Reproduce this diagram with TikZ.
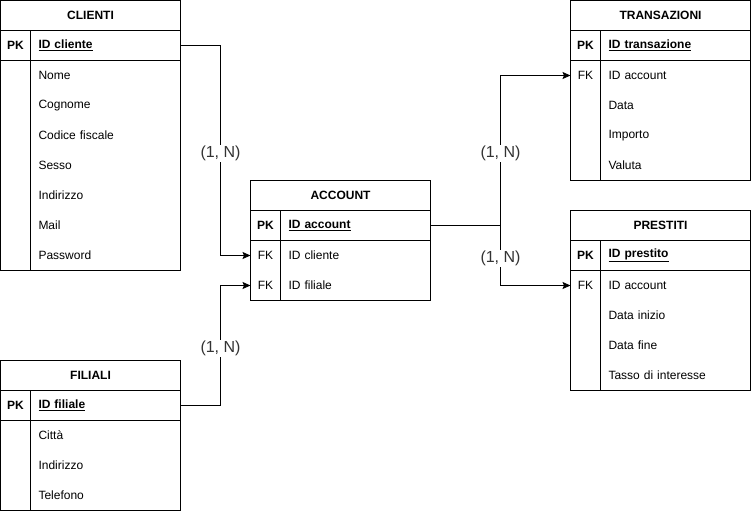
\documentclass[tikz,border=0pt]{standalone}
\usepackage{fontspec}
\setmainfont{Liberation Sans}
\usetikzlibrary {positioning}
\usetikzlibrary {math}
\usetikzlibrary {arrows.meta}
\tikzset{
headbox/.style={rectangle,minimum height=30pt,minimum width=180pt,outer sep=0pt,draw=black,font=\fontsize{12}{14}\selectfont\bfseries}
}
\tikzset{
keybox/.style={rectangle,minimum height=30pt,minimum width=30pt,inner sep=0pt,outer sep=0pt,font=\fontsize{12}{14}\selectfont}
}
\tikzset{
fieldbox/.style={rectangle,minimum height=30pt,text width=134pt,inner xsep=8pt,inner ysep=0pt,outer sep=0pt,align=left,font=\fontsize{12}{14}\selectfont}
}
\tikzset{
link/.style={draw=black,-{Stealth[length=8pt,width=7pt,inset=1.5pt]}},
card/.style={fill=white,inner sep=1pt,yshift=-3pt,text=black!80,font=\fontsize{16}{18}\selectfont}
}

\begin{document}
\begin{tikzpicture}[x=1pt,y=-1pt,line width=0.8pt]
\useasboundingbox (0,0) rectangle (751,511);

%------------------------------------------------------------------------------------------------------------%
\node[headbox] (C0) at (90.5,15.5) {CLIENTI};
\node[keybox,below right=0 of C0.south west,font=\fontsize{12}{14}\selectfont\bfseries] (CK1) {PK};
\node[fieldbox,right=0 of CK1,font=\fontsize{12}{14}\selectfont\bfseries] (CF1) {\underline{ID cliente}};
\foreach \f [count=\i from 2] in {Nome,Cognome,Codice fiscale,Sesso,Indirizzo,Mail,Password}
{
\tikzmath{
int \j;
\j = \i-1;
}
\node[fieldbox,below=0 of CF\j] (CF\i) {\f};
}
\draw (CK1.north west) rectangle (CF1.south east);
\draw (CK1.north east) -- (CK1.south east);
\draw (CK1.south west) rectangle (CF8.south east);
\draw (CK1.south east) -- (CK1.south east |- CF8.south);
%------------------------------------------------------------------------------------------------------------%
\node[headbox] (A0) at (340.5,195.5) {ACCOUNT};
\node[keybox,below right=0 of A0.south west,font=\fontsize{12}{14}\selectfont\bfseries] (AK1) {PK};
\node[fieldbox,right=0 of AK1,font=\fontsize{12}{14}\selectfont\bfseries] (AF1) {\underline{ID account}};
\foreach \f [count=\i from 2] in {ID cliente,ID filiale}
{
\tikzmath{
int \j;
\j = \i-1;
}
\node[fieldbox,below=0 of AF\j] (AF\i) {\f};
\node[keybox,left=0 of AF\i] (AK\i) {FK};
}
\draw (AK1.north west) rectangle (AF1.south east);
\draw (AK1.north east) -- (AK1.south east);
\draw (AK1.south west) rectangle (AF3.south east);
\draw (AK1.south east) -- (AK1.south east |- AF3.south);
%------------------------------------------------------------------------------------------------------------%
\node[headbox] (F0) at (90.5,375.5) {FILIALI};
\node[keybox,below right=0 of F0.south west,font=\fontsize{12}{14}\selectfont\bfseries] (FK1) {PK};
\node[fieldbox,right=0 of FK1,font=\fontsize{12}{14}\selectfont\bfseries] (FF1) {\underline{ID filiale}};
\foreach \f [count=\i from 2] in {Città,Indirizzo,Telefono}
{
\tikzmath{
int \j;
\j = \i-1;
}
\node[fieldbox,below=0 of FF\j] (FF\i) {\f};
}
\draw (FK1.north west) rectangle (FF1.south east);
\draw (FK1.north east) -- (FK1.south east);
\draw (FK1.south west) rectangle (FF4.south east);
\draw (FK1.south east) -- (FK1.south east |- FF4.south);
%------------------------------------------------------------------------------------------------------------%
\node[headbox] (T0) at (660.5,15.5) {TRANSAZIONI};
\node[keybox,below right=0 of T0.south west,font=\fontsize{12}{14}\selectfont\bfseries] (TK1) {PK};
\node[fieldbox,right=0 of TK1,font=\fontsize{12}{14}\selectfont\bfseries] (TF1) {\underline{ID transazione}};
\foreach \f [count=\i from 2] in {ID account,Data,Importo,Valuta}
{
\tikzmath{
int \j;
\j = \i-1;
}
\node[fieldbox,below=0 of TF\j] (TF\i) {\f};
}
\node[keybox,left=0 of TF2] (TK2) {FK};
\draw (TK1.north west) rectangle (TF1.south east);
\draw (TK1.north east) -- (TK1.south east);
\draw (TK1.south west) rectangle (TF5.south east);
\draw (TK1.south east) -- (TK1.south east |- TF5.south);
%------------------------------------------------------------------------------------------------------------%
\node[headbox] (P0) at (660.5,225.5) {PRESTITI};
\node[keybox,below right=0 of P0.south west,font=\fontsize{12}{14}\selectfont\bfseries] (PK1) {PK};
\node[fieldbox,right=0 of PK1,font=\fontsize{12}{14}\selectfont\bfseries] (PF1) {\underline{ID prestito}};
\foreach \f [count=\i from 2] in {ID account,Data inizio,Data fine,Tasso di interesse}
{
\tikzmath{
int \j;
\j = \i-1;
}
\node[fieldbox,below=0 of PF\j] (PF\i) {\f};
}
\node[keybox,left=0 of PF2] (PK2) {FK};
\draw (PK1.north west) rectangle (PF1.south east);
\draw (PK1.north east) -- (PK1.south east);
\draw (PK1.south west) rectangle (PF5.south east);
\draw (PK1.south east) -- (PK1.south east |- PF5.south);
%------------------------------------------------------------------------------------------------------------%
\draw[link] (CF1.east) -- ++(40,0) |- node[pos=0.25,card]{(1, N)} (AK2.west);
\draw[link] (FF1.east) -- ++(40,0) |- node[pos=0.25,card]{(1, N)} (AK3.west);
\draw[link] (AF1.east) -- ++(70,0) |- node[pos=0.25,card]{(1, N)} (TK2.west);
\draw[link] (AF1.east) -- ++(70,0) |- node[pos=0.25,card]{(1, N)} (PK2.west);

\end{tikzpicture}
\end{document}
